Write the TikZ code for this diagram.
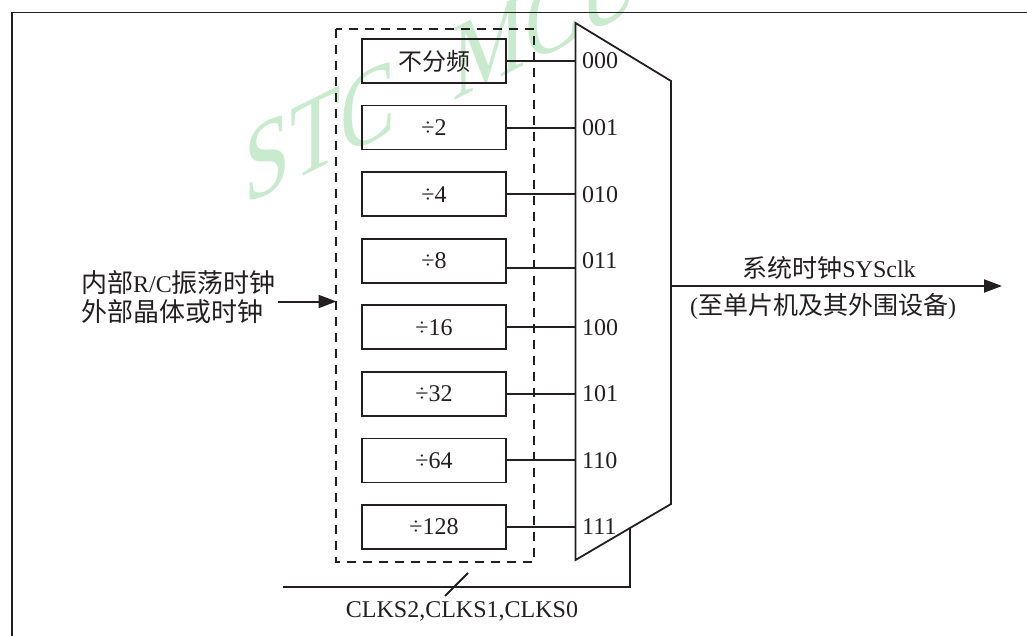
\documentclass[tikz,border=0pt]{standalone}
\usepackage{fontspec}
\setmainfont{Liberation Serif}
\newfontfamily\cjk{Noto Sans CJK SC}
\usetikzlibrary{arrows.meta, positioning, calc}
\definecolor{wmgreen}{RGB}{200,234,205}
\definecolor{ink}{RGB}{35,31,32}

\begin{document}
\begin{tikzpicture}[x=1pt, y=-1pt, ink,
  font=\fontsize{24}{29}\selectfont,
  divbox/.style={draw, line width=1.8pt, minimum width=144pt, minimum height=44pt, inner sep=0pt},
  sel/.style={inner sep=0pt, anchor=west},
  wire/.style={line width=2pt},
  tip/.style={-{Triangle[length=18pt,width=13pt]}}]
\useasboundingbox (0,0) rectangle (1027,636);

% Watermark
\node[wmgreen, yslant=0.5, xscale=0.75, anchor=base west, inner sep=0pt,
  font=\fontsize{110}{110}\selectfont] (wm) at (244,206) {STC\hspace{76pt}MCU};

% Frame
\draw[line width=1.8pt] (12,636) -- (12,12.5) -- (1027,12.5);

% Multiplexer
\coordinate (mA) at (575.5,23);
\coordinate (mB) at (671,81);
\coordinate (mC) at (671,504);
\coordinate (mD) at (575.5,560);
\draw[line width=1.8pt, line join=miter] (mA) -- (mB) -- (mC) -- (mD) -- cycle;

% Dividers
\draw[line width=1.4pt, dash pattern=on 9pt off 7pt] (336,29) rectangle (534,562);
\foreach \t/\s [count=\i from 0] in {{\cjk 不分频}/000, ÷2/001, ÷4/010, ÷8/011,
    ÷16/100, ÷32/101, ÷64/110, ÷128/111} {
  \pgfmathsetmacro\off{\i==3 ? 7.5 : 0}
  \node[divbox] (d\i) at (434,61+66.57*\i) {\t};
  \coordinate (w\i) at ([yshift=-\off pt]d\i.east);
  \draw[wire] (w\i) -- (w\i -| mA);
  \node[sel] (s\i) at (582,61+66.57*\i) {\s};
}

% Clock source
\node[align=left, anchor=west, inner sep=0pt] (src) at (81,297)
  {{\cjk\fontsize{26}{29}\selectfont 内部}R/C{\cjk\fontsize{26}{29}\selectfont 振荡时钟}\\
   {\cjk\fontsize{26}{29}\selectfont 外部晶体或时钟}};
\coordinate (inW) at (278,301.5);
\coordinate (inE) at (336.5,301.5);
\draw[wire, tip] (inW) -- (inE);

% System clock out
\coordinate (outW) at (671,286);
\coordinate (outE) at (1002,286);
\draw[wire, tip] (outW) -- (outE);
\node (clk) at (829,268) {{\cjk\fontsize{25}{29}\selectfont 系统时钟}SYSclk};
\node (dest) at (823,307) {({\cjk\fontsize{25}{29}\selectfont 至单片机及其外围设备})};

% Select lines
\coordinate (selT) at (630,528.1);
\coordinate (selC) at (630,586.5);
\coordinate (selW) at (283,586.5);
\draw[wire] (selT) -- (selC) -- (selW);
\coordinate (slA) at (445,596);
\coordinate (slB) at (468,573);
\draw[wire] (slA) -- (slB);
\node (clks) at (462,611) {CLKS2,CLKS1,CLKS0};
\end{tikzpicture}
\end{document}
